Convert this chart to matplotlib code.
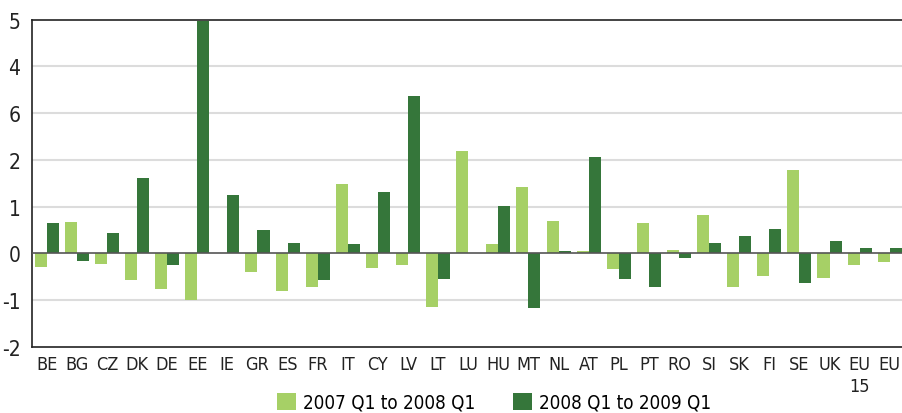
import numpy as np
import matplotlib
matplotlib.use("Agg")
import matplotlib.pyplot as plt

# countries and the change in both periods
paises = ["BE", "BG", "CZ", "DK", "DE", "EE", "IE", "GR", "ES", "FR",
          "IT", "CY", "LV", "LT", "LU", "HU", "MT", "NL", "AT", "PL",
          "PT", "RO", "SI", "SK", "FI", "SE", "UK", "EU\n15", "EU"]
periodo1 = [-0.30, 0.66, -0.22, -0.58, -0.76, -0.99, 0.0, -0.41, -0.80, -0.73,
            1.49, -0.31, -0.26, -1.14, 2.18, 0.19, 1.43, 0.70, 0.06, -0.33,
            0.64, 0.08, 0.81, -0.73, -0.48, 1.79, -0.52, -0.26, -0.18]
periodo2 = [0.64, -0.16, 0.44, 1.62, -0.26, 4.98, 1.24, 0.49, 0.23, -0.58,
            0.19, 1.32, 3.36, -0.54, 0.0, 1.02, -1.16, 0.06, 2.07, -0.54,
            -0.73, -0.11, 0.23, 0.38, 0.53, -0.63, 0.27, 0.12, 0.12]
etiquetas_y = ["-2", "-1", "0", "1", "2", "6", "4", "5"]
series = ["2007 Q1 to 2008 Q1", "2008 Q1 to 2009 Q1"]

plt.rcParams['font.family'] = ['DejaVu Sans']
plt.rcParams['font.stretch'] = 'condensed'

fig = plt.figure(figsize=(9.02, 4.14), dpi=100)
ax = fig.add_axes([0.0351, 0.160, 0.968, 0.790])

x = np.arange(len(paises))
ancho = 0.40
ax.bar(x - ancho / 2, periodo1, ancho, color="#a6d066", label=series[0], zorder=3)
ax.bar(x + ancho / 2, periodo2, ancho, color="#35763a", label=series[1], zorder=3)

ax.set_xlim(-0.5, len(paises) - 0.5)
ax.set_ylim(-2, 5)
ax.set_yticks(range(-2, 6))
ax.set_yticklabels(etiquetas_y, fontsize=15, color="#222222")
ax.set_xticks(x)
ax.set_xticklabels(paises, fontsize=13, color="#222222", linespacing=1.25, va="top")
ax.tick_params(length=0)
ax.tick_params(axis="y", pad=8)
ax.tick_params(axis="x", pad=6)

for v in range(-1, 5):
    if v != 0:
        ax.axhline(v, color="#dcdcdc", lw=1.5, zorder=1)
ax.axhline(0, color="#555555", lw=1.2, zorder=4)

for s in ["left", "bottom", "top"]:
    ax.spines[s].set_color("#222222")
    ax.spines[s].set_linewidth(1.2)
ax.spines["right"].set_visible(False)

fig.legend(loc="center", bbox_to_anchor=(0.548, 0.026), ncol=2, frameon=False,
           fontsize=13.5, handlelength=1.0, handleheight=1.0, handletextpad=0.4,
           columnspacing=2.0)

fig.savefig("out.png", dpi=100)
